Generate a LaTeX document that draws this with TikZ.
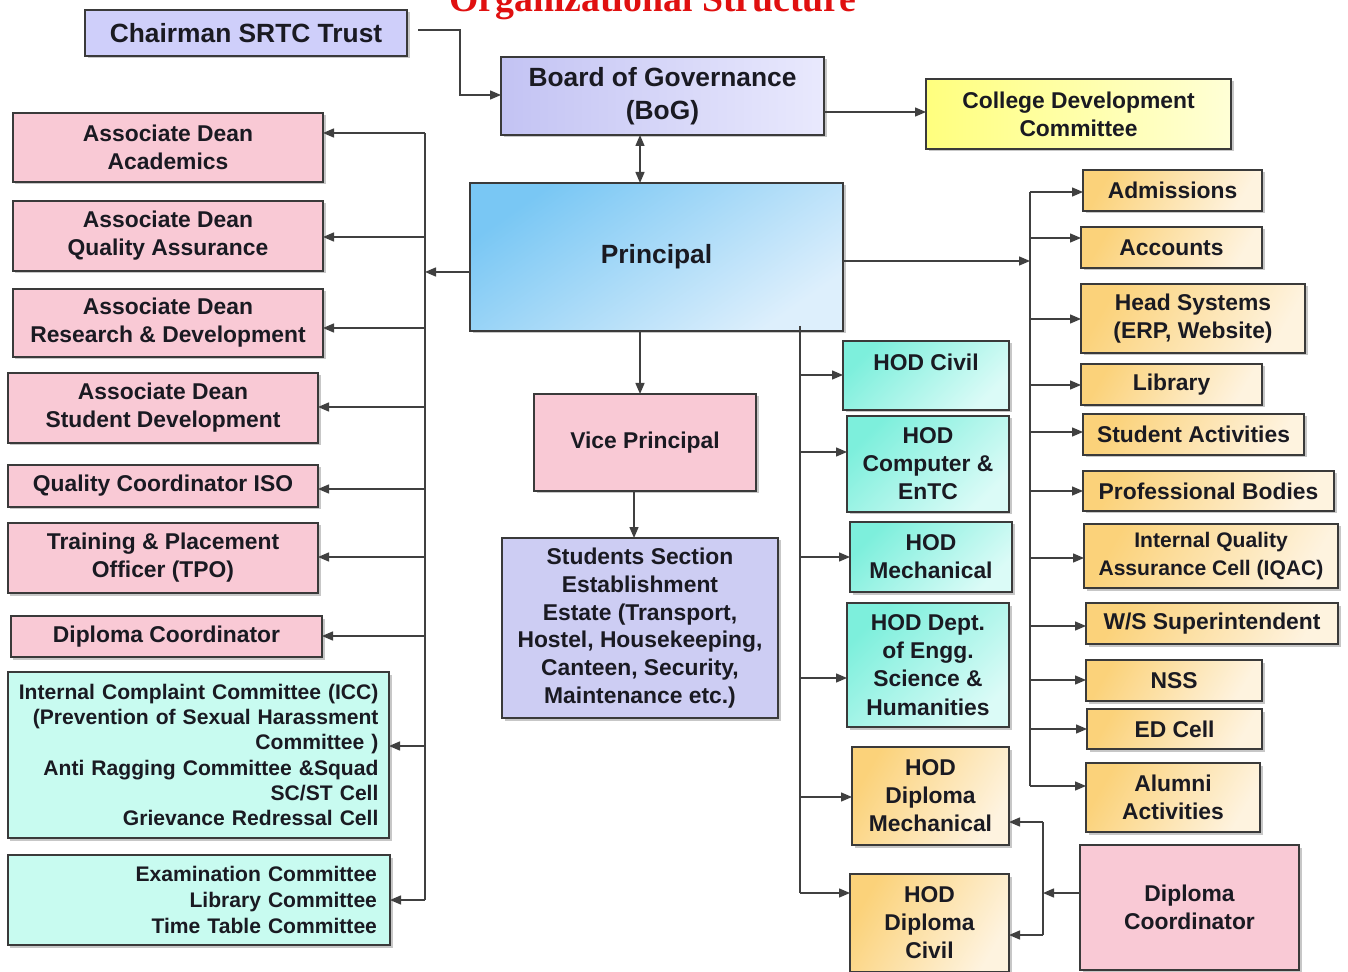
\documentclass[tikz,border=0pt]{standalone}
\usepackage{fontspec}
\setmainfont{Liberation Sans}
\newfontfamily\titlefont{Liberation Serif}
\usetikzlibrary{arrows.meta,shadows}
\definecolor{linec}{HTML}{3A3A3A}
\definecolor{arrc}{HTML}{404040}
\definecolor{txtc}{HTML}{1A1A22}
\definecolor{pinkF}{HTML}{F9C9D5}
\definecolor{aquaF}{HTML}{C8FBF0}
\definecolor{hodA}{HTML}{7DEFDC}
\definecolor{hodB}{HTML}{DBFBF7}
\definecolor{orA}{HTML}{FBD27A}
\definecolor{orB}{HTML}{FEF3DF}
\definecolor{prinA}{HTML}{79C7F4}
\definecolor{prinB}{HTML}{DDEFFC}
\definecolor{bogA}{HTML}{C3C3F3}
\definecolor{bogB}{HTML}{E9E9FD}
\definecolor{chairF}{HTML}{CFCFFA}
\definecolor{cdcA}{HTML}{FFFF7E}
\definecolor{cdcB}{HTML}{FFFFD6}
\definecolor{studF}{HTML}{CDCDF3}
\definecolor{titleC}{HTML}{E01010}
\tikzset{
  sz/.style 2 args={minimum width={#1*0.02cm}, minimum height={#2*0.02cm}},
  box/.style={draw=linec, line width=0.9pt, inner sep=0pt, outer sep=0pt, align=center, text=txtc,
    font=\bfseries\fontsize{13}{16}\selectfont,
    drop shadow={shadow xshift=0.05cm, shadow yshift=-0.05cm, fill=black, opacity=0.22}},
  pinkbox/.style={box, fill=pinkF},
  aquabox/.style={box, fill=aquaF, font=\bfseries\fontsize{12}{14.3}\selectfont},
  hodbox/.style={box, top color=hodA, bottom color=hodB, shading angle=45},
  orbox/.style={box, top color=orA, bottom color=orB, shading angle=60},
  bigfont/.style={font=\bfseries\fontsize{15}{19}\selectfont},
  ln/.style={draw=arrc, line width=0.8pt},
  arr/.style={ln, -{Triangle[length=2.2mm,width=1.8mm]}},
  arrtwo/.style={ln, {Triangle[length=2.2mm,width=1.8mm]}-{Triangle[length=2.2mm,width=1.8mm]}},
}
\begin{document}
\begin{tikzpicture}[x=0.02cm, y=-0.02cm]
\useasboundingbox (0,0) rectangle (1348,972);
\clip (0,0) rectangle (1348,972);
\fill[white] (0,0) rectangle (1348,972);

% title (cut by the top edge, as in the reference)
\node[font=\titlefont\bfseries\fontsize{21.5}{24}\selectfont, text=titleC, anchor=base, inner sep=0pt] (title) at (653,12) {Organizational Structure};

% top
\node[box, fill=chairF, bigfont, sz={322}{46}] (chair) at (246,33) {Chairman SRTC Trust};
\node[box, left color=bogA, right color=bogB, bigfont, sz={323}{78}] (bog) at (662.5,96) {Board of Governance\\(BoG)};
\node[box, left color=cdcA, right color=cdcB, sz={305}{70}] (cdc) at (1078.5,114) {College Development\\Committee};
\node[box, top color=prinA, bottom color=prinB, shading angle=35, bigfont, sz={373}{148}] (prin) at (656.5,257) {Principal};
\node[pinkbox, sz={222}{97}] (vp) at (645,442.5) {Vice Principal};
\node[box, fill=studF, font=\bfseries\fontsize{13}{15.8}\selectfont, sz={276}{180}] (stud) at (640,628) {Students Section\\Establishment\\Estate (Transport,\\Hostel, Housekeeping,\\Canteen, Security,\\Maintenance etc.)};

% left column
\node[pinkbox, sz={310}{69}] (ada) at (168,147.5) {Associate Dean\\Academics};
\node[pinkbox, sz={310}{70}] (adq) at (168,236) {Associate Dean\\Quality Assurance};
\node[pinkbox, sz={310}{68}] (adr) at (168,323) {Associate Dean\\Research \& Development};
\node[pinkbox, sz={310}{70}] (ads) at (163,408) {Associate Dean\\Student Development};
\node[pinkbox, sz={310}{42}] (iso) at (163,486) {Quality Coordinator ISO};
\node[pinkbox, sz={310}{70}] (tpo) at (163,558) {Training \& Placement\\Officer (TPO)};
\node[pinkbox, sz={311}{41}] (dcl) at (166.5,636.5) {Diploma Coordinator};
\node[aquabox, align=right, text width=7.2cm, sz={381}{166}] (icc) at (198.5,755) {Internal Complaint Committee (ICC)\\(Prevention of Sexual Harassment\\Committee )\\Anti Ragging Committee \&Squad\\SC/ST Cell\\Grievance Redressal Cell};
\node[aquabox, align=right, text width=7.12cm, font=\bfseries\fontsize{12}{15}\selectfont, sz={382}{90}] (exam) at (199,900) {Examination Committee\\Library Committee\\Time Table Committee};

% HOD column
\node[hodbox, sz={166}{69}] (hciv) at (926,375.5) {};
\node[font=\bfseries\fontsize{13}{16}\selectfont, text=txtc, inner sep=0pt] (hcivt) at (926,362) {HOD Civil};
\node[hodbox, sz={162}{96}] (hcomp) at (928,464) {HOD\\Computer \&\\EnTC};
\node[hodbox, sz={162}{70}] (hmech) at (931,557) {HOD\\Mechanical};
\node[hodbox, sz={162}{124}] (hsci) at (928,665) {HOD Dept.\\of Engg.\\Science \&\\Humanities};
\node[orbox, sz={157}{98}] (dipm) at (930.5,796) {HOD\\Diploma\\Mechanical};
\node[orbox, sz={159}{98}] (dipc) at (929.5,923) {HOD\\Diploma\\Civil};
\node[pinkbox, sz={219}{125}] (dcr) at (1189.5,907.5) {Diploma\\Coordinator};

% right column
\node[orbox, sz={179}{41}] (adm) at (1172.5,190.5) {Admissions};
\node[orbox, sz={181}{41}] (acc) at (1171.5,247.5) {Accounts};
\node[orbox, sz={224}{69}] (hsys) at (1193,318.5) {Head Systems\\(ERP, Website)};
\node[orbox, sz={181}{41}] (lib) at (1171.5,384.5) {Library};
\node[orbox, sz={221}{41}] (sact) at (1193.5,434.5) {Student Activities};
\node[orbox, sz={251}{40}] (prof) at (1208.5,491) {Professional Bodies};
\node[orbox, font=\bfseries\fontsize{12}{15.5}\selectfont, sz={254}{64}] (iqac) at (1211,556) {Internal Quality\\Assurance Cell (IQAC)};
\node[orbox, sz={252}{41}] (ws) at (1212,623.5) {W/S Superintendent};
\node[orbox, sz={176}{41}] (nss) at (1174,680.5) {NSS};
\node[orbox, sz={175}{40}] (ed) at (1174.5,729) {ED Cell};
\node[orbox, sz={174}{69}] (alum) at (1173,797.5) {Alumni\\Activities};

% top connectors
\draw[arr] ([xshift=0.22cm]chair.east |- 0,30) -| (460,95) -- (bog.west |- 460,95);
\draw[arr] (bog.east |- 0,112) -- (cdc.west |- 0,112);
\draw[arrtwo] (bog.south -| 640,0) -- (prin.north -| 640,0);
\draw[arr] (prin.south -| 640,0) -- (vp.north -| 640,0);
\draw[arr] (vp.south -| 634,0) -- (stud.north -| 634,0);

% left bus
\coordinate (lT) at (425,133);
\coordinate (lB) at (425,900);
\draw[ln] (lT) -- (lB);
\draw[arr] (prin.west |- 0,272) -- (lT |- 0,272);
\draw[arr] (lT) -- (ada.east |- lT);
\draw[arr] (lT |- 0,237) -- (adq.east |- 0,237);
\draw[arr] (lT |- 0,328) -- (adr.east |- 0,328);
\draw[arr] (lT |- 0,407) -- (ads.east |- 0,407);
\draw[arr] (lT |- 0,489) -- (iso.east |- 0,489);
\draw[arr] (lT |- 0,557) -- (tpo.east |- 0,557);
\draw[arr] (lT |- 0,636) -- (dcl.east |- 0,636);
\draw[arr] (lT |- 0,746) -- (icc.east |- 0,746);
\draw[arr] (lB) -- (exam.east |- lB);

% HOD bus
\coordinate (hT) at (800,326);
\coordinate (hB) at (800,893);
\draw[ln] (hT) -- (hB);
\draw[arr] (hT |- 0,375) -- (hciv.west |- 0,375);
\draw[arr] (hT |- 0,452) -- (hcomp.west |- 0,452);
\draw[arr] (hT |- 0,557) -- (hmech.west |- 0,557);
\draw[arr] (hT |- 0,678) -- (hsci.west |- 0,678);
\draw[arr] (hT |- 0,797) -- (dipm.west |- 0,797);
\draw[arr] (hB) -- (dipc.west |- hB);

% diploma coordinator bus
\coordinate (dT) at (1043,822);
\coordinate (dB) at (1043,935);
\draw[ln] (dT) -- (dB);
\draw[arr] (dcr.west |- 0,893) -- (dT |- 0,893);
\draw[arr] (dT) -- (dipm.east |- dT);
\draw[arr] (dB) -- (dipc.east |- dB);

% right bus
\coordinate (rT) at (1030,192);
\coordinate (rB) at (1030,786);
\draw[ln] (rT) -- (rB);
\draw[arr] (prin.east |- 0,261) -- (rT |- 0,261);
\draw[arr] (rT) -- (adm.west |- rT);
\draw[arr] (rT |- 0,238) -- (acc.west |- 0,238);
\draw[arr] (rT |- 0,319) -- (hsys.west |- 0,319);
\draw[arr] (rT |- 0,385) -- (lib.west |- 0,385);
\draw[arr] (rT |- 0,432) -- (sact.west |- 0,432);
\draw[arr] (rT |- 0,491) -- (prof.west |- 0,491);
\draw[arr] (rT |- 0,558) -- (iqac.west |- 0,558);
\draw[arr] (rT |- 0,626) -- (ws.west |- 0,626);
\draw[arr] (rT |- 0,680) -- (nss.west |- 0,680);
\draw[arr] (rT |- 0,729) -- (ed.west |- 0,729);
\draw[arr] (rB) -- (alum.west |- rB);
\end{tikzpicture}
\end{document}
